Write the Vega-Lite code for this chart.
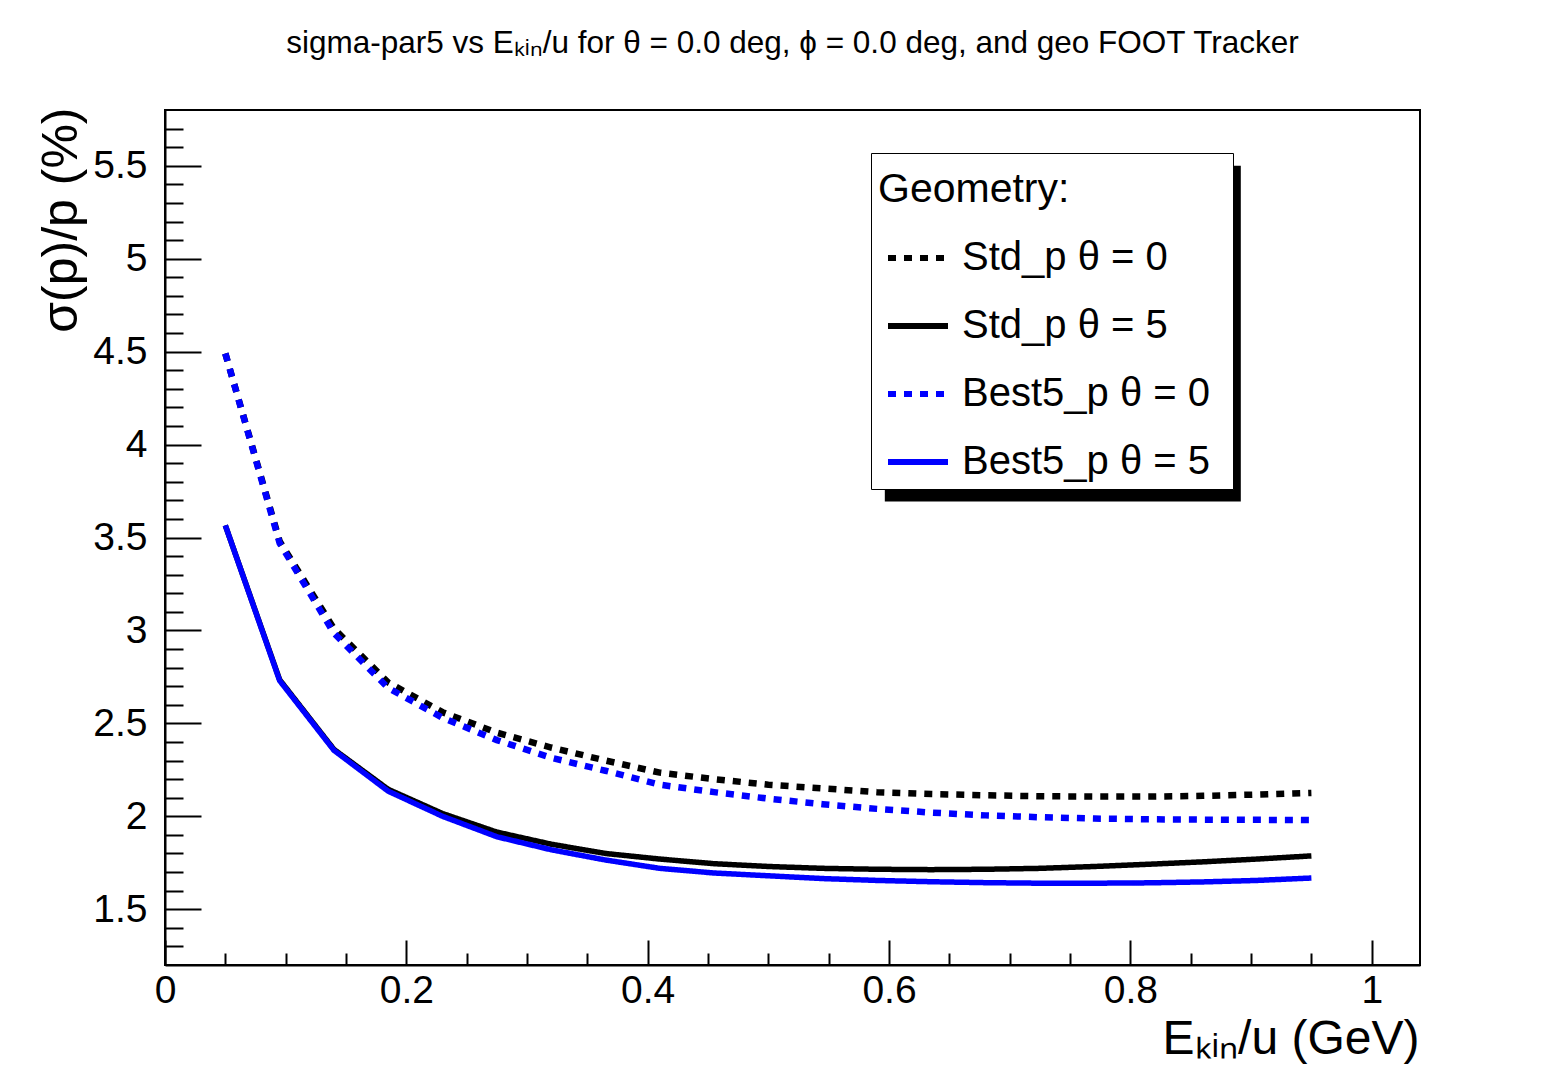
{
  "$schema": "https://vega.github.io/schema/vega-lite/v6.json",
  "width": 1255,
  "height": 855,
  "autosize": {"type": "none"},
  "padding": {"left": 165, "top": 110, "right": 139, "bottom": 102},
  "background": "white",
  "config": {
    "font": "Liberation Sans",
    "view": {"stroke": "black", "strokeWidth": 2},
    "axis": {
      "domainColor": "black",
      "domainWidth": 2,
      "tickColor": "black",
      "tickWidth": 2,
      "grid": false,
      "labelColor": "black",
      "labelFont": "Liberation Sans",
      "labelFontSize": 39,
      "titleColor": "black",
      "titleFont": "Liberation Sans",
      "titleFontWeight": "normal",
      "titleFontSize": 48
    }
  },
  "title": {
    "text": "sigma-par5 vs Eₖᵢₙ/u for θ = 0.0 deg, ϕ = 0.0 deg, and geo FOOT Tracker",
    "font": "Liberation Sans",
    "fontSize": 31.5,
    "fontWeight": "normal",
    "color": "black",
    "anchor": "middle",
    "baseline": "alphabetic",
    "offset": 23
  },
  "datasets": {
    "curves": [
      {"e": 0.05, "s": 4.49, "g": "Std_p θ = 0"},
      {"e": 0.095, "s": 3.48, "g": "Std_p θ = 0"},
      {"e": 0.14, "s": 3.01, "g": "Std_p θ = 0"},
      {"e": 0.185, "s": 2.72, "g": "Std_p θ = 0"},
      {"e": 0.23, "s": 2.56, "g": "Std_p θ = 0"},
      {"e": 0.275, "s": 2.45, "g": "Std_p θ = 0"},
      {"e": 0.32, "s": 2.37, "g": "Std_p θ = 0"},
      {"e": 0.365, "s": 2.3, "g": "Std_p θ = 0"},
      {"e": 0.41, "s": 2.235, "g": "Std_p θ = 0"},
      {"e": 0.455, "s": 2.2, "g": "Std_p θ = 0"},
      {"e": 0.5, "s": 2.17, "g": "Std_p θ = 0"},
      {"e": 0.545, "s": 2.15, "g": "Std_p θ = 0"},
      {"e": 0.59, "s": 2.13, "g": "Std_p θ = 0"},
      {"e": 0.635, "s": 2.12, "g": "Std_p θ = 0"},
      {"e": 0.68, "s": 2.113, "g": "Std_p θ = 0"},
      {"e": 0.725, "s": 2.108, "g": "Std_p θ = 0"},
      {"e": 0.77, "s": 2.106, "g": "Std_p θ = 0"},
      {"e": 0.815, "s": 2.106, "g": "Std_p θ = 0"},
      {"e": 0.86, "s": 2.11, "g": "Std_p θ = 0"},
      {"e": 0.905, "s": 2.117, "g": "Std_p θ = 0"},
      {"e": 0.95, "s": 2.126, "g": "Std_p θ = 0"},

      {"e": 0.05, "s": 3.565, "g": "Std_p θ = 5"},
      {"e": 0.095, "s": 2.735, "g": "Std_p θ = 5"},
      {"e": 0.14, "s": 2.36, "g": "Std_p θ = 5"},
      {"e": 0.185, "s": 2.145, "g": "Std_p θ = 5"},
      {"e": 0.23, "s": 2.015, "g": "Std_p θ = 5"},
      {"e": 0.275, "s": 1.915, "g": "Std_p θ = 5"},
      {"e": 0.32, "s": 1.85, "g": "Std_p θ = 5"},
      {"e": 0.365, "s": 1.8, "g": "Std_p θ = 5"},
      {"e": 0.41, "s": 1.77, "g": "Std_p θ = 5"},
      {"e": 0.455, "s": 1.745, "g": "Std_p θ = 5"},
      {"e": 0.5, "s": 1.73, "g": "Std_p θ = 5"},
      {"e": 0.545, "s": 1.72, "g": "Std_p θ = 5"},
      {"e": 0.59, "s": 1.715, "g": "Std_p θ = 5"},
      {"e": 0.635, "s": 1.713, "g": "Std_p θ = 5"},
      {"e": 0.68, "s": 1.715, "g": "Std_p θ = 5"},
      {"e": 0.725, "s": 1.72, "g": "Std_p θ = 5"},
      {"e": 0.77, "s": 1.73, "g": "Std_p θ = 5"},
      {"e": 0.815, "s": 1.742, "g": "Std_p θ = 5"},
      {"e": 0.86, "s": 1.755, "g": "Std_p θ = 5"},
      {"e": 0.905, "s": 1.77, "g": "Std_p θ = 5"},
      {"e": 0.95, "s": 1.787, "g": "Std_p θ = 5"},

      {"e": 0.05, "s": 4.49, "g": "Best5_p θ = 0"},
      {"e": 0.095, "s": 3.47, "g": "Best5_p θ = 0"},
      {"e": 0.14, "s": 2.985, "g": "Best5_p θ = 0"},
      {"e": 0.185, "s": 2.69, "g": "Best5_p θ = 0"},
      {"e": 0.23, "s": 2.53, "g": "Best5_p θ = 0"},
      {"e": 0.275, "s": 2.41, "g": "Best5_p θ = 0"},
      {"e": 0.32, "s": 2.315, "g": "Best5_p θ = 0"},
      {"e": 0.365, "s": 2.245, "g": "Best5_p θ = 0"},
      {"e": 0.41, "s": 2.17, "g": "Best5_p θ = 0"},
      {"e": 0.455, "s": 2.13, "g": "Best5_p θ = 0"},
      {"e": 0.5, "s": 2.095, "g": "Best5_p θ = 0"},
      {"e": 0.545, "s": 2.065, "g": "Best5_p θ = 0"},
      {"e": 0.59, "s": 2.04, "g": "Best5_p θ = 0"},
      {"e": 0.635, "s": 2.02, "g": "Best5_p θ = 0"},
      {"e": 0.68, "s": 2.005, "g": "Best5_p θ = 0"},
      {"e": 0.725, "s": 1.995, "g": "Best5_p θ = 0"},
      {"e": 0.77, "s": 1.988, "g": "Best5_p θ = 0"},
      {"e": 0.815, "s": 1.984, "g": "Best5_p θ = 0"},
      {"e": 0.86, "s": 1.982, "g": "Best5_p θ = 0"},
      {"e": 0.905, "s": 1.981, "g": "Best5_p θ = 0"},
      {"e": 0.95, "s": 1.98, "g": "Best5_p θ = 0"},

      {"e": 0.05, "s": 3.565, "g": "Best5_p θ = 5"},
      {"e": 0.095, "s": 2.73, "g": "Best5_p θ = 5"},
      {"e": 0.14, "s": 2.355, "g": "Best5_p θ = 5"},
      {"e": 0.185, "s": 2.135, "g": "Best5_p θ = 5"},
      {"e": 0.23, "s": 2.0, "g": "Best5_p θ = 5"},
      {"e": 0.275, "s": 1.89, "g": "Best5_p θ = 5"},
      {"e": 0.32, "s": 1.82, "g": "Best5_p θ = 5"},
      {"e": 0.365, "s": 1.765, "g": "Best5_p θ = 5"},
      {"e": 0.41, "s": 1.72, "g": "Best5_p θ = 5"},
      {"e": 0.455, "s": 1.695, "g": "Best5_p θ = 5"},
      {"e": 0.5, "s": 1.68, "g": "Best5_p θ = 5"},
      {"e": 0.545, "s": 1.665, "g": "Best5_p θ = 5"},
      {"e": 0.59, "s": 1.655, "g": "Best5_p θ = 5"},
      {"e": 0.635, "s": 1.648, "g": "Best5_p θ = 5"},
      {"e": 0.68, "s": 1.643, "g": "Best5_p θ = 5"},
      {"e": 0.725, "s": 1.64, "g": "Best5_p θ = 5"},
      {"e": 0.77, "s": 1.64, "g": "Best5_p θ = 5"},
      {"e": 0.815, "s": 1.642, "g": "Best5_p θ = 5"},
      {"e": 0.86, "s": 1.647, "g": "Best5_p θ = 5"},
      {"e": 0.905, "s": 1.655, "g": "Best5_p θ = 5"},
      {"e": 0.95, "s": 1.668, "g": "Best5_p θ = 5"}
    ]
  },
  "layer": [
    {
      "description": "Legend drop shadow; also carries the minor tick marks of both axes",
      "data": {"values": [{}]},
      "mark": {"type": "rect", "color": "black"},
      "encoding": {
        "x": {
          "datum": 0.5965,
          "type": "quantitative",
          "scale": {"domain": [0, 1.04], "nice": false, "zero": false},
          "axis": {
            "orient": "bottom",
            "values": [0.05, 0.1, 0.15, 0.25, 0.3, 0.35, 0.45, 0.5, 0.55, 0.65, 0.7, 0.75, 0.85, 0.9, 0.95],
            "tickSize": -12,
            "labels": false,
            "domain": false,
            "title": null
          }
        },
        "x2": {"datum": 0.8915},
        "y": {
          "datum": 5.5,
          "type": "quantitative",
          "scale": {"domain": [1.2, 5.8], "nice": false, "zero": false},
          "axis": {
            "orient": "left",
            "values": [1.3, 1.4, 1.6, 1.7, 1.8, 1.9, 2.1, 2.2, 2.3, 2.4, 2.6, 2.7, 2.8, 2.9, 3.1, 3.2, 3.3, 3.4, 3.6, 3.7, 3.8, 3.9, 4.1, 4.2, 4.3, 4.4, 4.6, 4.7, 4.8, 4.9, 5.1, 5.2, 5.3, 5.4, 5.6, 5.7],
            "tickSize": -18,
            "labels": false,
            "domain": false,
            "title": null
          }
        },
        "y2": {"datum": 3.694}
      }
    },
    {
      "data": {"name": "curves"},
      "encoding": {
        "x": {
          "field": "e",
          "type": "quantitative",
          "scale": {"domain": [0, 1.04], "nice": false, "zero": false},
          "axis": {
            "orient": "bottom",
            "values": [0, 0.2, 0.4, 0.6, 0.8, 1],
            "labelExpr": "'' + datum.value",
            "tickSize": -25,
            "labelPadding": 31,
            "labelFlush": false,
            "title": "Eₖᵢₙ/u (GeV)",
            "titleAnchor": "end",
            "titleAlign": "right",
            "titleBaseline": "alphabetic",
            "titleX": 1254,
            "titleY": 88
          }
        },
        "y": {
          "field": "s",
          "type": "quantitative",
          "scale": {"domain": [1.2, 5.8], "nice": false, "zero": false},
          "axis": {
            "orient": "left",
            "values": [1.5, 2, 2.5, 3, 3.5, 4, 4.5, 5, 5.5],
            "labelExpr": "'' + datum.value",
            "tickSize": -36,
            "labelPadding": 54,
            "labelFlush": false,
            "title": "σ(p)/p (%)",
            "titleFontSize": 50,
            "titleAngle": -90,
            "titleAnchor": "end",
            "titleAlign": "right",
            "titleBaseline": "alphabetic",
            "titleX": -89,
            "titleY": -3
          }
        },
        "color": {
          "field": "g",
          "type": "nominal",
          "scale": {
            "domain": ["Std_p θ = 0", "Std_p θ = 5", "Best5_p θ = 0", "Best5_p θ = 5"],
            "range": ["#000000", "#000000", "#0000ff", "#0000ff"]
          },
          "legend": {
            "title": "Geometry:",
            "orient": "none",
            "legendX": 706,
            "legendY": 43,
            "direction": "vertical",
            "fillColor": "white",
            "strokeColor": "black",
            "padding": 7,
            "titleFont": "Liberation Sans",
            "titleFontSize": 41,
            "titleFontWeight": "normal",
            "titleColor": "black",
            "titleBaseline": "line-top",
            "titleLineHeight": 61,
            "titlePadding": 24,
            "titleLimit": 500,
            "labelFont": "Liberation Sans",
            "labelFontSize": 40,
            "labelColor": "black",
            "labelOffset": 11,
            "labelLimit": 500,
            "labelExpr": "datum.label + '\u2009\u2009\u200b'",
            "symbolType": "stroke",
            "symbolSize": 3600,
            "symbolStrokeWidth": 6,
            "symbolOffset": 7,
            "rowPadding": 15
          }
        },
        "strokeDash": {
          "field": "g",
          "type": "nominal",
          "scale": {
            "domain": ["Std_p θ = 0", "Std_p θ = 5", "Best5_p θ = 0", "Best5_p θ = 5"],
            "range": [[8, 8], [1, 0], [8, 8], [1, 0]]
          },
          "legend": {
            "title": "Geometry:",
            "orient": "none",
            "legendX": 706,
            "legendY": 43,
            "direction": "vertical",
            "fillColor": "white",
            "strokeColor": "black",
            "padding": 7,
            "titleFont": "Liberation Sans",
            "titleFontSize": 41,
            "titleFontWeight": "normal",
            "titleColor": "black",
            "titleBaseline": "line-top",
            "titleLineHeight": 61,
            "titlePadding": 24,
            "titleLimit": 500,
            "labelFont": "Liberation Sans",
            "labelFontSize": 40,
            "labelColor": "black",
            "labelOffset": 11,
            "labelLimit": 500,
            "labelExpr": "datum.label + '\u2009\u2009\u200b'",
            "symbolType": "stroke",
            "symbolSize": 3600,
            "symbolStrokeWidth": 6,
            "symbolOffset": 7,
            "rowPadding": 15
          }
        }
      },
      "layer": [
        {"transform": [{"filter": "datum.g === 'Std_p θ = 0'"}], "mark": {"type": "line", "strokeWidth": 6.5}},
        {"transform": [{"filter": "datum.g === 'Std_p θ = 5'"}], "mark": {"type": "line", "strokeWidth": 5.5}},
        {"transform": [{"filter": "datum.g === 'Best5_p θ = 0'"}], "mark": {"type": "line", "strokeWidth": 6.5}},
        {"transform": [{"filter": "datum.g === 'Best5_p θ = 5'"}], "mark": {"type": "line", "strokeWidth": 5.5}}
      ]
    }
  ],
  "resolve": {"axis": {"x": "independent", "y": "independent"}}
}
